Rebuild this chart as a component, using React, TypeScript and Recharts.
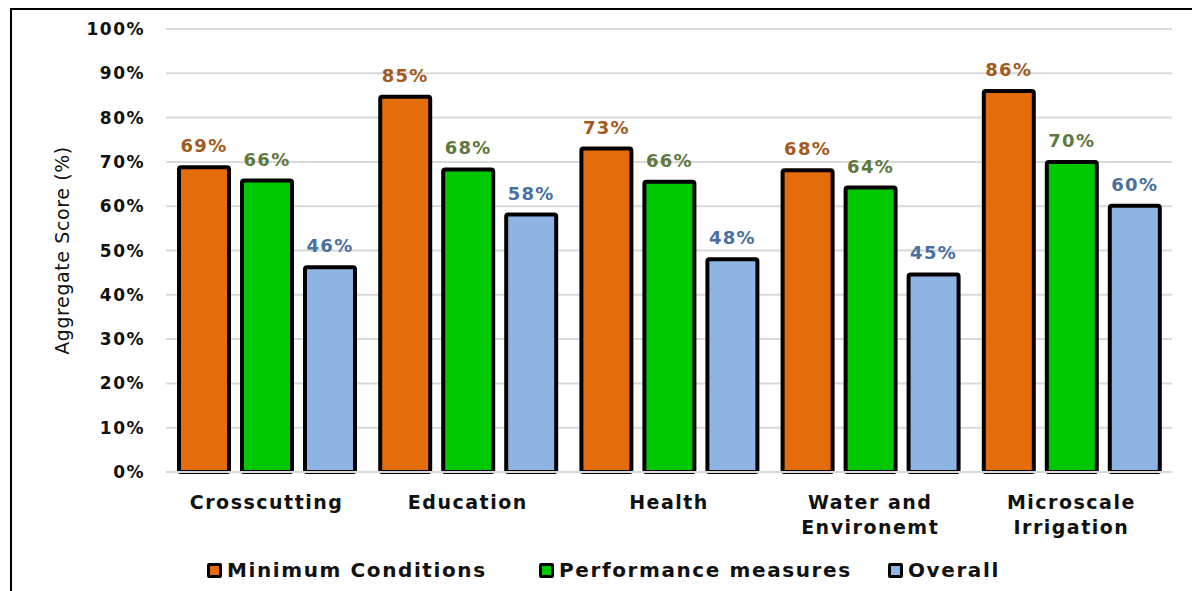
import React from 'react'
import {
  BarChart,
  Bar,
  XAxis,
  YAxis,
  CartesianGrid,
  Legend,
  LabelList,
  Label,
} from 'recharts'

const categories = [
  'Crosscutting',
  'Education',
  'Health',
  'Water and Environemt',
  'Microscale Irrigation',
]
const minimumConditions = [68.8, 84.7, 73.0, 68.1, 86.0]
const performanceMeasures = [65.8, 68.3, 65.5, 64.2, 70.0]
const overall = [46.2, 58.1, 48.0, 44.6, 60.1]
const yTicks = [0, 10, 20, 30, 40, 50, 60, 70, 80, 90, 100]

const data = categories.map((name, i) => ({
  name,
  minimum: minimumConditions[i],
  performance: performanceMeasures[i],
  overall: overall[i],
}))

const FONT = "'DejaVu Sans', sans-serif"

const series = [
  { key: 'minimum', name: 'Minimum Conditions', fill: '#E46C0A', label: '#A25A20' },
  { key: 'performance', name: 'Performance measures', fill: '#00C800', label: '#5E7840' },
  { key: 'overall', name: 'Overall', fill: '#8EB4E3', label: '#4A70A0' },
]

// legend item widths so the three entries sit where the original has them
const legendWidths = [332, 349, 140]

function splitLabel(text: string): string[] {
  if (text.length <= 14 || !text.includes(' ')) return [text]
  const mid = text.length / 2
  let best = -1
  for (let i = 0; i < text.length; i++) {
    if (text[i] === ' ' && (best < 0 || Math.abs(i - mid) < Math.abs(best - mid))) best = i
  }
  return [text.slice(0, best), text.slice(best + 1)]
}

function CategoryTick({ x, y, payload }: any) {
  const lines = splitLabel(String(payload.value))
  return (
    <text
      x={x}
      y={y + 37}
      textAnchor="middle"
      fill="#111"
      fontFamily={FONT}
      fontWeight="bold"
      fontSize={19}
      letterSpacing={1.5}
    >
      {lines.map((line, i) => (
        <tspan key={i} x={x} dy={i === 0 ? 0 : 25}>
          {line}
        </tspan>
      ))}
    </text>
  )
}

function YTitle({ viewBox }: any) {
  const cx = viewBox.x + 6
  const cy = viewBox.y + viewBox.height / 2
  return (
    <text
      x={cx}
      y={cy}
      transform={`rotate(-90, ${cx}, ${cy})`}
      textAnchor="middle"
      dominantBaseline="central"
      fill="#111"
      fontFamily={FONT}
      fontSize={19}
      letterSpacing={0.6}
    >
      Aggregate Score (%)
    </text>
  )
}

function LegendContent() {
  return (
    <div
      style={{
        display: 'flex',
        alignItems: 'center',
        paddingLeft: 207,
        fontFamily: FONT,
        fontWeight: 'bold',
        fontSize: 20,
        letterSpacing: 1.6,
        color: '#111',
        whiteSpace: 'nowrap',
      }}
    >
      {series.map((s, i) => (
        <div
          key={s.key}
          style={{ display: 'flex', alignItems: 'center', width: legendWidths[i], flexShrink: 0 }}
        >
          <span
            style={{
              display: 'inline-block',
              width: 15,
              height: 15,
              boxSizing: 'border-box',
              border: '3px solid #000',
              borderRadius: 2,
              background: s.fill,
              marginRight: 5,
            }}
          />
          {s.name}
        </div>
      ))}
    </div>
  )
}

export default function App() {
  return (
    <div style={{ position: 'absolute', left: 0, top: 0, width: 1192, height: 591, background: '#fff', overflow: 'hidden' }}>
      <div
        style={{
          position: 'absolute',
          left: 10,
          top: 8,
          width: 1200,
          height: 600,
          borderTop: '2px solid #000',
          borderLeft: '2px solid #000',
        }}
      />
      <div style={{ position: 'absolute', left: 0, top: 0 }}>
        <BarChart
          width={1192}
          height={591}
          data={data}
          margin={{ top: 29, right: 20, bottom: 109, left: 56 }}
          barSize={50}
          barGap={13}
        >
          <CartesianGrid vertical={false} stroke="#D9D9D9" strokeWidth={2} />
          <XAxis
            dataKey="name"
            axisLine={{ stroke: '#D9D9D9', strokeWidth: 2 }}
            tickLine={false}
            tickSize={0}
            tickMargin={0}
            interval={0}
            tick={<CategoryTick />}
            height={10}
          />
          <YAxis
            width={110}
            domain={[0, 100]}
            ticks={yTicks}
            axisLine={false}
            tickLine={false}
            tickSize={0}
            tickMargin={21}
            tickFormatter={(v) => `${v}%`}
            tick={{ fill: '#111', fontFamily: FONT, fontWeight: 'bold', fontSize: 17, letterSpacing: 1.5 }}
          >
            <Label content={<YTitle />} />
          </YAxis>
          <Legend
            layout="horizontal"
            verticalAlign="middle"
            align="center"
            wrapperStyle={{ top: 558, left: 0, width: 1192 }}
            content={<LegendContent />}
          />
          {series.map((s) => (
            <Bar
              key={s.key}
              dataKey={s.key}
              name={s.name}
              fill={s.fill}
              stroke="#000"
              strokeWidth={4}
              radius={2}
              isAnimationActive={false}
            >
              <LabelList
                dataKey={s.key}
                position="top"
                offset={15}
                formatter={(v: any) => `${Math.round(Number(v))}%`}
                fill={s.label}
                style={{ fontFamily: FONT, fontWeight: 'bold', fontSize: 18, letterSpacing: 1.3 }}
              />
            </Bar>
          ))}
        </BarChart>
      </div>
    </div>
  )
}
